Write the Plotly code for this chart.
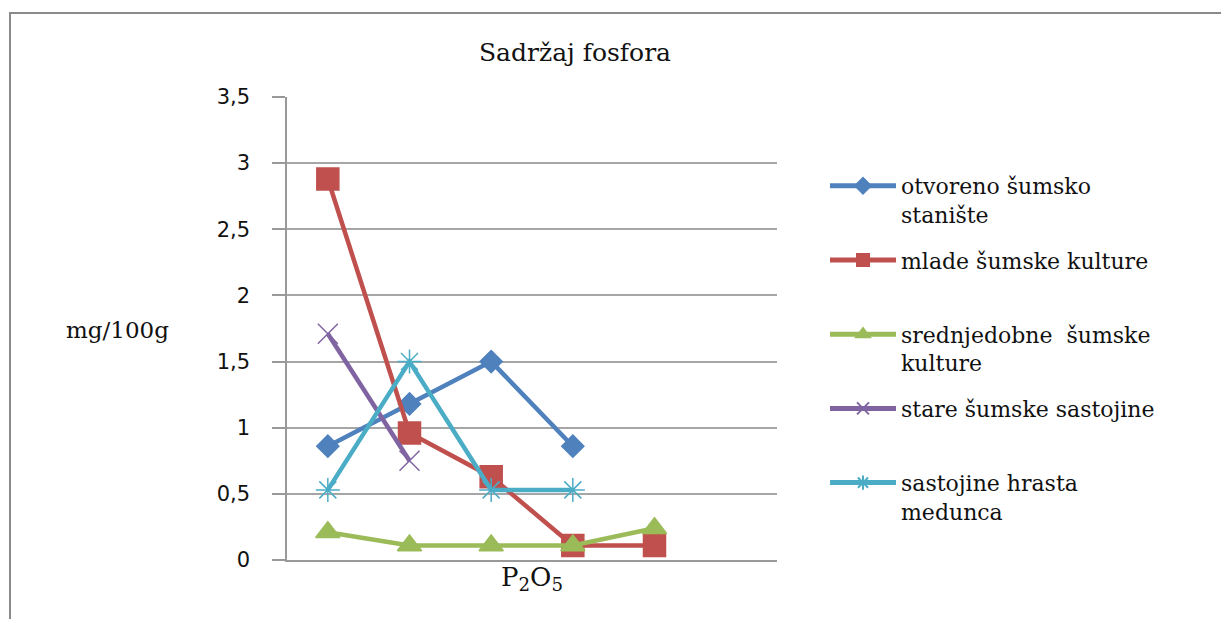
import plotly.graph_objects as go

# Data
sample_index = [1, 2, 3, 4, 5]
otvoreno = [0.86, 1.18, 1.50, 0.86, None]
mlade = [2.88, 0.96, 0.63, 0.11, 0.11]
srednjedobne = [0.21, 0.11, 0.11, 0.11, 0.24]
stare = [1.71, 0.75, None, None, None]
hrast = [0.53, 1.50, 0.53, 0.53, None]

series_names = [
    "otvoreno šumsko<br>stanište",
    "mlade šumske kulture<br> ",
    "srednjedobne  šumske<br>kulture",
    "stare šumske sastojine<br> ",
    "sastojine hrasta<br>medunca",
]
y_ticks = [0, 0.5, 1, 1.5, 2, 2.5, 3, 3.5]
y_ticktext = ["0", "0,5", "1", "1,5", "2", "2,5", "3", "3,5"]
x_label = "P<sub>2</sub>O<sub>5</sub>"
x_label_pos = 3.5

colors = ["#4F81BD", "#C0504D", "#9BBB59", "#8064A2", "#4BACC6"]
markers = [
    dict(symbol="diamond", size=17),
    dict(symbol="square", size=22),
    dict(symbol="triangle-up", size=21),
    dict(symbol="x-thin", size=20),
    dict(symbol="asterisk", size=20),
]

fig = go.Figure()
for i, (vals, name) in enumerate(zip([otvoreno, mlade, srednjedobne, stare, hrast], series_names)):
    m = dict(markers[i])
    m["color"] = colors[i]
    m["line"] = dict(color=colors[i], width=1.5)
    fig.add_trace(go.Scatter(
        x=sample_index, y=vals, name=name, mode="lines+markers",
        line=dict(color=colors[i], width=4.5), marker=m,
        legendgroup=f"g{i}", connectgaps=False,
    ))

OFF = 8  # page body margin
W, H = 1229, 619
L, R, T, B = 287 - OFF, 777 - OFF, 97 - OFF, 560 - OFF
pw, ph = R - L, B - T

def px(x):
    return (x - OFF - L) / pw

def py(y):
    return 1 - (y - OFF - T) / ph

fig.update_layout(
    width=W, height=H,
    margin=dict(l=L, r=W - R, t=T, b=H - B, pad=0),
    paper_bgcolor="white", plot_bgcolor="white",
    title=dict(text="Sadržaj fosfora", x=(575 - OFF) / W, xanchor="center",
               y=1 - (52 - OFF) / H, yanchor="middle",
               font=dict(family="DejaVu Serif", size=25, color="#111")),
    showlegend=True,
    legend=dict(x=px(825), xanchor="left", y=py(165), yanchor="top",
                font=dict(family="DejaVu Serif", size=22, color="#111"),
                traceorder="grouped", tracegroupgap=14, valign="top",
                itemwidth=66, itemsizing="constant", bgcolor="rgba(0,0,0,0)"),
    xaxis=dict(range=[0.5, 6.5], showticklabels=False, ticks="",
               showgrid=False, zeroline=False, showline=True, linecolor="#999",
               linewidth=1.5, fixedrange=True),
    yaxis=dict(range=[0, 3.5], tickvals=y_ticks, ticktext=y_ticktext, ticks="outside",
               ticklen=13, tickcolor="#999", tickwidth=1.5, ticklabelstandoff=18,
               showgrid=True, gridcolor="#a6a6a6", gridwidth=1.5, zeroline=False,
               showline=True, linecolor="#999", linewidth=1.5,
               tickfont=dict(family="DejaVu Sans", size=21, color="#111"),
               fixedrange=True),
    annotations=[
        dict(text="mg/100g", xref="paper", yref="paper", x=px(117), y=py(330),
             showarrow=False, xanchor="center", yanchor="middle",
             font=dict(family="DejaVu Serif", size=23, color="#111")),
        dict(text=x_label, xref="x", yref="paper", x=x_label_pos, y=py(578),
             showarrow=False, xanchor="center", yanchor="middle",
             font=dict(family="DejaVu Serif", size=26, color="#111")),
    ],
    shapes=[dict(type="rect", xref="paper", yref="paper", x0=px(10), x1=px(1260),
                 y0=py(660), y1=py(13), line=dict(color="#8a8a8a", width=2),
                 fillcolor="rgba(0,0,0,0)", layer="below")],
)

fig.write_html("out.html")
